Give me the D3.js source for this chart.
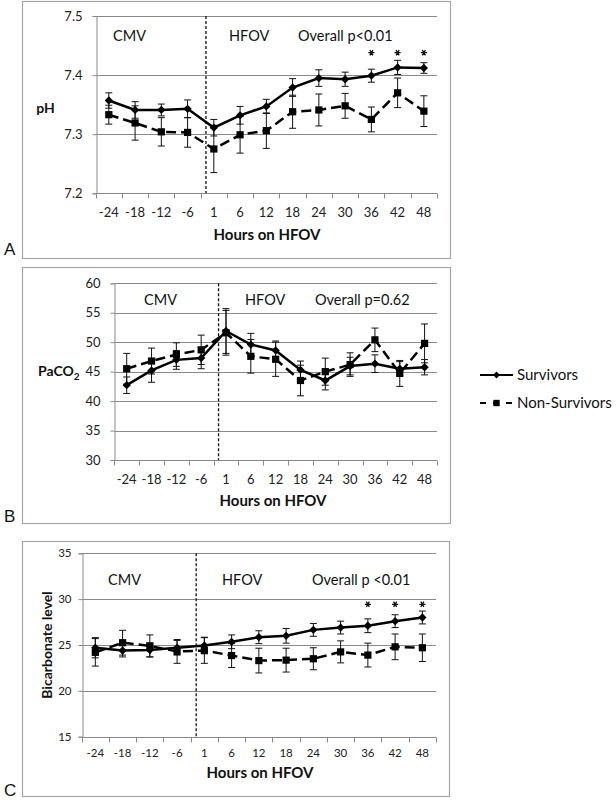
<!DOCTYPE html>
<html><head><meta charset="utf-8">
<script src="https://cdn.jsdelivr.net/npm/d3@7"></script>
<style>
body{margin:0;background:#fff;}
svg{display:block;font-family:Lato,"Open Sans",sans-serif;}
</style></head>
<body>
<svg id="chart" width="616" height="800"></svg>
<script>
// ---------- data ----------
const hours = ["-24","-18","-12","-6","1","6","12","18","24","30","36","42","48"];

const phTicks = [7.2, 7.3, 7.4, 7.5];
const phSurv    = [7.357,7.341,7.341,7.343,7.311,7.332,7.347,7.379,7.395,7.393,7.399,7.413,7.412];
const phSurvErr = [0.013,0.014,0.010,0.015,0.014,0.015,0.012,0.015,0.014,0.012,0.011,0.012,0.009];
const phNon     = [7.333,7.319,7.304,7.303,7.275,7.299,7.306,7.338,7.341,7.348,7.325,7.370,7.339];
const phNonErr  = [0.016,0.029,0.024,0.025,0.040,0.031,0.030,0.028,0.027,0.021,0.021,0.025,0.026];
const phStars   = ["36","42","48"];

const pcoTicks = [30, 35, 40, 45, 50, 55, 60];
const pcoSurv    = [42.7,45.2,47.0,47.3,51.9,49.6,48.6,45.3,43.5,45.95,46.35,45.5,45.75];
const pcoSurvErr = [1.4,2.0,1.6,1.8,3.8,1.9,1.6,1.5,1.6,1.5,1.5,1.2,1.3];
const pcoNon     = [45.5,46.8,47.9,48.7,51.6,47.6,47.1,43.5,45.0,46.2,50.4,44.7,49.8];
const pcoNonErr  = [2.6,2.2,2.0,2.5,3.8,2.85,2.9,2.6,2.3,2.0,2.0,2.2,3.3];

const bicTicks = [15, 20, 25, 30, 35];
const bicSurv    = [24.7,24.4,24.45,24.7,24.95,25.35,25.85,26.0,26.65,26.9,27.1,27.6,28.0];
const bicSurvErr = [1.1,0.7,0.75,0.8,0.9,0.75,0.7,0.8,0.7,0.7,0.75,0.7,0.7];
const bicNon     = [24.2,25.25,24.9,24.3,24.4,23.85,23.3,23.35,23.5,24.25,23.9,24.8,24.7];
const bicNonErr  = [1.5,1.35,1.2,1.3,1.4,1.3,1.35,1.3,1.2,1.2,1.3,1.4,1.5];
const bicStars   = ["36","42","48"];

const seriesNames = ["Survivors","Non-Survivors"];

// ---------- drawing ----------
const svg = d3.select("#chart");
const GRID = "#8a8a8a", BORDER = "#a6a6a6";

function panel(cfg){
  const g = svg.append("g");
  g.append("rect").attr("x",cfg.box[0]+0.5).attr("y",cfg.box[1]+0.5)
    .attr("width",cfg.box[2]-cfg.box[0]).attr("height",cfg.box[3]-cfg.box[1])
    .attr("fill","none").attr("stroke",BORDER).attr("stroke-width",1.2);

  const x = d3.scaleBand().domain(hours).range([cfg.l, cfg.r]).paddingInner(0).paddingOuter(0);
  const y = d3.scaleLinear().domain(cfg.domain).range([cfg.b, cfg.t]);
  const bw = x.bandwidth();
  const cx = h => x(h) + bw/2;

  // gridlines
  g.append("g").selectAll("line").data(cfg.ticks.slice(1)).join("line")
    .attr("x1",cfg.l).attr("x2",cfg.r)
    .attr("y1",d=>Math.round(y(d))+0.5).attr("y2",d=>Math.round(y(d))+0.5)
    .attr("stroke",GRID).attr("stroke-width",1);

  // y axis
  const ya = g.append("g").attr("transform",`translate(${Math.round(cfg.l)+0.5},0)`)
    .call(d3.axisLeft(y).tickValues(cfg.ticks).tickFormat(cfg.fmt).tickSize(4).tickPadding(cfg.ytPad));
  ya.select(".domain").attr("stroke",GRID);
  ya.selectAll(".tick line").attr("stroke",GRID);
  ya.selectAll(".tick text").attr("font-size",cfg.tickFs).attr("fill","#222")
    .attr("font-family","Lato,sans-serif");

  // x axis with ticks at band boundaries
  const xa = g.append("g").attr("transform",`translate(0,${Math.round(cfg.b)+0.5})`);
  xa.append("line").attr("x1",cfg.l).attr("x2",cfg.r).attr("stroke",GRID);
  const edges = hours.map(h=>x(h)).concat([cfg.r]);
  xa.selectAll("line.tk").data(edges).join("line").attr("class","tk")
    .attr("x1",d=>Math.round(d)+0.5).attr("x2",d=>Math.round(d)+0.5).attr("y1",0).attr("y2",5)
    .attr("stroke",GRID);
  xa.selectAll("text").data(hours).join("text")
    .attr("x",d=>cx(d)).attr("y",cfg.xtY-cfg.b).attr("text-anchor","middle")
    .attr("font-size",cfg.tickFs).attr("fill","#222").text(d=>d);

  // divider between CMV and HFOV (just after the -6 | 1 boundary)
  const dx = x("1") + bw*0.2;
  g.append("line").attr("x1",dx).attr("x2",dx).attr("y1",cfg.t).attr("y2",cfg.b)
    .attr("stroke","#111").attr("stroke-width",1.3).attr("stroke-dasharray","3,2");

  // annotations
  cfg.notes.forEach(n=>{
    g.append("text").attr("x",n[1]).attr("y",n[2]).attr("font-size",cfg.noteFs)
      .attr("fill","#111").text(n[0]);
  });

  // series
  const series = [
    {vals:cfg.surv, err:cfg.survErr, dash:null, sym:d3.symbolDiamond2, size:44},
    {vals:cfg.non, err:cfg.nonErr, dash:"10,5", sym:d3.symbolSquare, size:52}
  ];
  [series[1], series[0]].forEach(s=>{
    const pts = hours.map((h,i)=>({h, v:s.vals[i], e:s.err[i]}));
    const eb = g.append("g");
    pts.forEach(p=>{
      const x0 = cx(p.h), yt = y(p.v+p.e), yb = y(p.v-p.e);
      eb.append("line").attr("x1",x0).attr("x2",x0).attr("y1",yt).attr("y2",yb).attr("stroke","#111").attr("stroke-width",1);
      [yt,yb].forEach(yy=>eb.append("line").attr("x1",x0-3.5).attr("x2",x0+3.5).attr("y1",yy).attr("y2",yy).attr("stroke","#111").attr("stroke-width",1));
    });
    g.append("path").datum(pts)
      .attr("d",d3.line().x(p=>cx(p.h)).y(p=>y(p.v)))
      .attr("fill","none").attr("stroke","#000").attr("stroke-width",2.5)
      .attr("stroke-dasharray",s.dash);
    g.append("g").selectAll("path").data(pts).join("path")
      .attr("transform",p=>`translate(${cx(p.h)},${y(p.v)})`)
      .attr("d",d3.symbol().type(s.sym).size(s.size)).attr("fill","#000");
  });

  // significance stars (asterisk symbols)
  if(cfg.stars){
    g.append("g").selectAll("path").data(cfg.stars).join("path")
      .attr("transform",d=>`translate(${cx(d)},${y(cfg.starV)}) rotate(90)`)
      .attr("d",d3.symbol().type(d3.symbolAsterisk).size(26))
      .attr("fill","none").attr("stroke","#111").attr("stroke-width",1.3);
  }

  // x title
  g.append("text").attr("x",cfg.xTitle[0]).attr("y",cfg.xTitle[1]).attr("text-anchor","middle")
    .attr("font-size",15).attr("font-weight","bold").attr("fill","#111").text("Hours on HFOV");

  // y title
  cfg.yTitle(g);

  // panel letter
  g.append("text").attr("x",4).attr("y",cfg.letterY).attr("font-size",17)
    .attr("font-family","'Liberation Sans',Arial,sans-serif").attr("fill","#111").text(cfg.letter);
}

panel({
  box:[22,1,450,258], l:95.7, r:437, t:16, b:193.3, domain:[7.2,7.5], ticks:phTicks,
  fmt:d3.format(".1f"), tickFs:13, ytPad:10, xtY:217,
  surv:phSurv, survErr:phSurvErr, non:phNon, nonErr:phNonErr,
  notes:[["CMV",113,41],["HFOV",229,41],["Overall p<0.01",298,41]], noteFs:14.5,
  stars:phStars, starV:7.438, xTitle:[267,240], letter:"A", letterY:255,
  yTitle:g=>g.append("text").attr("x",45.5).attr("y",113).attr("text-anchor","middle")
    .attr("font-size",14).attr("font-weight","bold").attr("fill","#111").text("pH")
});

panel({
  box:[22,267,450,523], l:114.3, r:437, t:283.3, b:460, domain:[30,60], ticks:pcoTicks,
  fmt:d3.format("d"), tickFs:13, ytPad:10, xtY:483,
  surv:pcoSurv, survErr:pcoSurvErr, non:pcoNon, nonErr:pcoNonErr,
  notes:[["CMV",144,305],["HFOV",245,305],["Overall p=0.62",315,305]], noteFs:14.5,
  stars:null, xTitle:[273,506], letter:"B", letterY:522,
  yTitle:g=>{
    const t = g.append("text").attr("x",38).attr("y",376).attr("font-size",14)
      .attr("font-weight","bold").attr("fill","#111");
    t.append("tspan").text("PaCO");
    t.append("tspan").attr("font-size",10).attr("dy",4).text("2");
  }
});

panel({
  box:[22,541,449,796], l:81.7, r:436, t:553.3, b:736.7, domain:[15,35], ticks:bicTicks,
  fmt:d3.format("d"), tickFs:11.5, ytPad:7, xtY:756,
  surv:bicSurv, survErr:bicSurvErr, non:bicNon, nonErr:bicNonErr,
  notes:[["CMV",108,585],["HFOV",222,585],["Overall p <0.01",312,585]], noteFs:14.5,
  stars:bicStars, starV:29.44, xTitle:[260,778], letter:"C", letterY:796,
  yTitle:g=>g.append("text").attr("transform","translate(52,645) rotate(-90)")
    .attr("text-anchor","middle").attr("font-size",14).attr("font-weight","bold")
    .attr("fill","#111").text("Bicarbonate level")
});

// legend
const lg = svg.append("g");
const legendRows = [
  {name:seriesNames[0], y:375, dash:null, sym:d3.symbolDiamond2, size:30},
  {name:seriesNames[1], y:403, dash:"6,7", sym:d3.symbolSquare, size:40}
];
legendRows.forEach(r=>{
  lg.append("line").attr("x1",480).attr("x2",513).attr("y1",r.y).attr("y2",r.y)
    .attr("stroke","#000").attr("stroke-width",2).attr("stroke-dasharray",r.dash);
  lg.append("path").attr("transform",`translate(496.5,${r.y})`)
    .attr("d",d3.symbol().type(r.sym).size(r.size)).attr("fill","#000");
  lg.append("text").attr("x",517).attr("y",r.y+5).attr("font-size",15).attr("fill","#111").text(r.name);
});
</script>
</body></html>
